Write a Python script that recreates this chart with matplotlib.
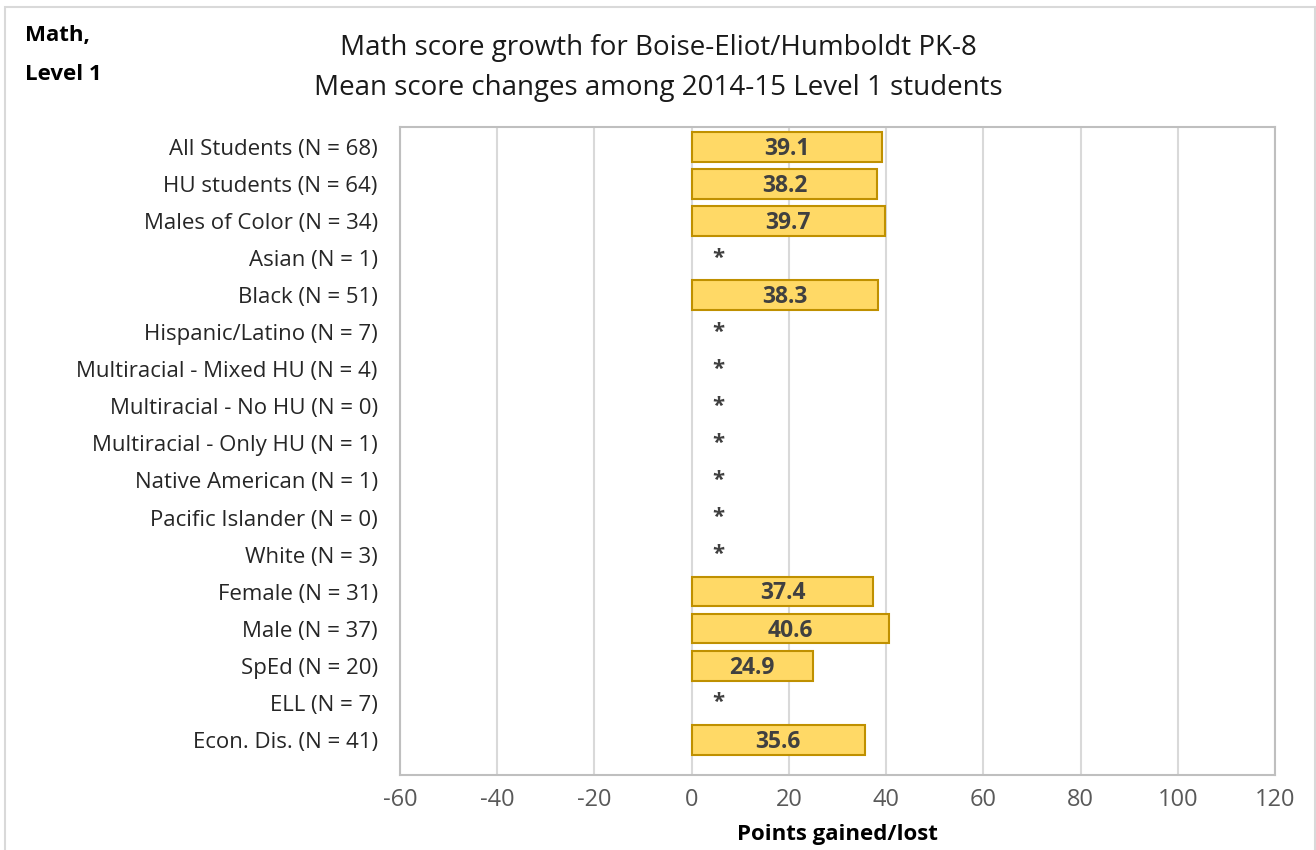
import matplotlib.pyplot as plt
from matplotlib.patches import Rectangle

plt.rcParams['font.family'] = ['Open Sans', 'DejaVu Sans']

categories = ['All Students (N = 68)', 'HU students (N = 64)', 'Males of Color (N = 34)',
              'Asian (N = 1)', 'Black (N = 51)', 'Hispanic/Latino (N = 7)',
              'Multiracial - Mixed HU (N = 4)', 'Multiracial - No HU (N = 0)',
              'Multiracial - Only HU (N = 1)', 'Native American (N = 1)',
              'Pacific Islander (N = 0)', 'White (N = 3)', 'Female (N = 31)',
              'Male (N = 37)', 'SpEd (N = 20)', 'ELL (N = 7)', 'Econ. Dis. (N = 41)']
# None = suppressed (shown as *)
values = [39.1, 38.2, 39.7, None, 38.3, None, None, None, None, None, None, None,
          37.4, 40.6, 24.9, None, 35.6]
xticks = [-60, -40, -20, 0, 20, 40, 60, 80, 100, 120]

fig = plt.figure(figsize=(13.16, 8.5), dpi=100)
ax = fig.add_axes([400/1316, 1 - 775/850, 875/1316, 648/850])

# outer chart border
fig.patches.append(Rectangle((5/1316, -0.05), 1310/1316, 1.05 - 7/850,
                             transform=fig.transFigure, fill=False,
                             edgecolor='#d9d9d9', linewidth=1.5))

ypos = list(range(len(categories)))
for y, v in zip(ypos, values):
    if v is None:
        ax.text(5.5, y, '*', ha='center', va='center', fontsize=16,
                fontweight='bold', color='#404040')
    else:
        ax.barh(y, v, height=0.8, color='#ffd966', edgecolor='#bf9000',
                linewidth=1.5, zorder=3)
        ax.text(v / 2, y + 0.05, f'{v:.1f}', ha='center', va='center', fontsize=16.5,
                fontweight='bold', color='#404040', zorder=4)

ax.set_xlim(-60, 120)
ax.set_ylim(16.95, -0.54)
ax.set_xticks(xticks)
ax.set_xticklabels([str(t) for t in xticks])
ax.set_yticks(ypos)
ax.set_yticklabels(categories)
ax.tick_params(axis='both', length=0, labelsize=16)
ax.tick_params(axis='x', colors='#595959', pad=9, labelsize=17)
ax.tick_params(axis='y', colors='#262626', pad=16)
ax.grid(axis='x', color='#d9d9d9', linewidth=1.5, zorder=0)
ax.set_axisbelow(True)
for s in ax.spines.values():
    s.set_color('#bfbfbf')
    s.set_linewidth(1.5)

ax.set_xlabel('Points gained/lost', fontsize=16, fontweight='bold', color='black', labelpad=9)

fig.text(0.5, 1 - 48/850, 'Math score growth for Boise-Eliot/Humboldt PK-8',
         ha='center', va='center', fontsize=20, color='#1a1a1a')
fig.text(0.5, 1 - 88/850, 'Mean score changes among 2014-15 Level 1 students',
         ha='center', va='center', fontsize=20, color='#1a1a1a')
fig.text(25/1316, 1 - 36/850, 'Math,', ha='left', va='center',
         fontsize=16, fontweight='bold')
fig.text(25/1316, 1 - 75/850, 'Level 1', ha='left', va='center',
         fontsize=16, fontweight='bold')

fig.savefig('out.png', dpi=100)
